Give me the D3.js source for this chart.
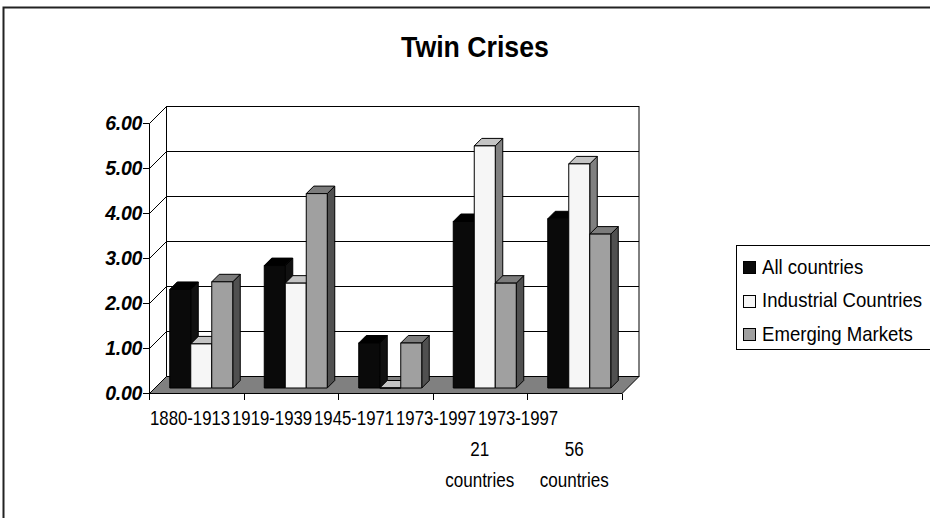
<!DOCTYPE html>
<html>
<head>
<meta charset="utf-8">
<script src="https://cdn.jsdelivr.net/npm/d3@7"></script>
<style>
  html, body { margin: 0; padding: 0; background: #fff; }
  svg { display: block; font-family: "Liberation Sans", Arial, sans-serif; }
</style>
</head>
<body>
<svg id="chart" width="930" height="518"></svg>
<script>
// Twin crises frequency by period
const categories = ["1880-1913", "1919-1939", "1945-1971", "1973-1997", "1973-1997"];
const categorySubLines = [[], [], [], ["21", "countries"], ["56", "countries"]];
const seriesNames = ["All countries", "Industrial Countries", "Emerging Markets"];
const allCountries = [2.19, 2.72, 1.00, 3.70, 3.76];
const industrialCountries = [0.98, 2.33, 0.00, 5.38, 4.98];
const emergingMarkets = [2.36, 4.32, 1.00, 2.33, 3.42];
const yTicks = [0, 1, 2, 3, 4, 5, 6];

const seriesValues = [allCountries, industrialCountries, emergingMarkets];
// front, top and side face colours of each series
const faceColors = [
  { front: "#0a0a0a", top: "#000000", side: "#111111" },
  { front: "#f6f6f6", top: "#c4c4c4", side: "#808080" },
  { front: "#a0a0a0", top: "#7c7c7c", side: "#505050" }
];

const svg = d3.select("#chart");

// condensed text helper: places text at (x, y) squeezed horizontally
function squeezed(sel, px, py, sx) {
  return sel.attr("x", 0).attr("y", 0)
    .attr("transform", `translate(${px},${py}) scale(${sx},1)`);
}

// outer chart frame
svg.append("rect")
  .attr("x", 3.5).attr("y", 7.5).attr("width", 960).attr("height", 560)
  .attr("fill", "none").attr("stroke", "#222").attr("stroke-width", 2);

// title
squeezed(svg.append("text"), 475, 57, 0.89)
  .attr("text-anchor", "middle")
  .attr("font-size", 30).attr("font-weight", "bold")
  .text("Twin Crises");

// plot geometry
const depth = 17;             // oblique depth of the floor / walls
const barFront = 5, barBack = 12.5; // bar depth slot within the floor
const x = d3.scaleBand().domain(d3.range(categories.length)).range([149, 621.5]);
const xs = d3.scaleBand().domain(d3.range(seriesNames.length))
  .range([0, x.bandwidth()]).paddingOuter(0.75).paddingInner(0);
const y = d3.scaleLinear().domain([0, 6]).range([393, 123]);

const x0 = x.range()[0], x1 = x.range()[1];
const yBase = y(0), yTop = y(6);

const walls = svg.append("g");

// back wall
walls.append("rect")
  .attr("x", x0 + depth + 0.5).attr("y", yTop - depth + 0.5)
  .attr("width", x1 - x0).attr("height", yBase - yTop)
  .attr("fill", "#fff").attr("stroke", "#000").attr("stroke-width", 1);

// gridlines on back wall and left wall
yTicks.forEach(t => {
  const yy = Math.round(y(t)) + 0.5;
  walls.append("line")
    .attr("x1", x0 + depth + 0.5).attr("x2", x1 + depth + 0.5)
    .attr("y1", yy - depth).attr("y2", yy - depth)
    .attr("stroke", "#000").attr("stroke-width", 1);
  walls.append("line")
    .attr("x1", x0 + 0.5).attr("y1", yy)
    .attr("x2", x0 + depth + 0.5).attr("y2", yy - depth)
    .attr("stroke", "#000").attr("stroke-width", 1);
});

// floor
walls.append("path")
  .attr("d", d3.line()([
    [x0 + 0.5, yBase + 0.5], [x1 + 0.5, yBase + 0.5],
    [x1 + depth + 0.5, yBase - depth + 0.5], [x0 + depth + 0.5, yBase - depth + 0.5]
  ]) + "Z")
  .attr("fill", "#808080").attr("stroke", "#000").attr("stroke-width", 1);

// value axis line and ticks
walls.append("line")
  .attr("x1", x0 + 0.5).attr("x2", x0 + 0.5)
  .attr("y1", yBase + 0.5).attr("y2", yTop + 0.5)
  .attr("stroke", "#000");
yTicks.forEach(t => {
  const yy = Math.round(y(t)) + 0.5;
  walls.append("line")
    .attr("x1", x0 - 6).attr("x2", x0 + 0.5)
    .attr("y1", yy).attr("y2", yy)
    .attr("stroke", "#000");
  walls.append("text")
    .attr("x", x0 - 7).attr("y", y(t) + 7)
    .attr("text-anchor", "end")
    .attr("font-size", 19.5).attr("font-weight", "bold").attr("font-style", "italic")
    .attr("letter-spacing", -0.3)
    .text(d3.format(".2f")(t));
});

// category axis ticks
d3.range(categories.length + 1).forEach(i => {
  const xx = Math.round(x0 + i * x.step()) + 0.5;
  walls.append("line")
    .attr("x1", xx).attr("x2", xx)
    .attr("y1", yBase + 0.5).attr("y2", yBase + 7)
    .attr("stroke", "#000");
});

// 3D columns
const bars = svg.append("g");
categories.forEach((c, ci) => {
  seriesValues.forEach((vals, si) => {
    const v = vals[ci];
    const bx = x(ci) + xs(si);
    const bw = xs.bandwidth();
    const yt = y(v), yb = y(0);
    const col = faceColors[si];
    const pt = (px, py, d) => [px + d, py - d];
    const poly = pts => d3.line()(pts) + "Z";
    // side face
    bars.append("path")
      .attr("d", poly([pt(bx + bw, yt, barFront), pt(bx + bw, yt, barBack),
                       pt(bx + bw, yb, barBack), pt(bx + bw, yb, barFront)]))
      .attr("fill", col.side).attr("stroke", "#000").attr("stroke-width", 1)
      .attr("stroke-linejoin", "round");
    // top face
    bars.append("path")
      .attr("d", poly([pt(bx, yt, barFront), pt(bx + bw, yt, barFront),
                       pt(bx + bw, yt, barBack), pt(bx, yt, barBack)]))
      .attr("fill", col.top).attr("stroke", "#000").attr("stroke-width", 1)
      .attr("stroke-linejoin", "round");
    // front face
    bars.append("path")
      .attr("d", poly([pt(bx, yt, barFront), pt(bx + bw, yt, barFront),
                       pt(bx + bw, yb, barFront), pt(bx, yb, barFront)]))
      .attr("fill", col.front).attr("stroke", "#000").attr("stroke-width", 1)
      .attr("stroke-linejoin", "round");
  });
});

// category labels: first lines run together, extra lines centred under each group
const labelRun = d3.scaleBand().domain(d3.range(categories.length)).range([150, 560]);
const labels = svg.append("g").attr("font-size", 19.5);
categories.forEach((c, ci) => {
  squeezed(labels.append("text"), labelRun(ci), 425, 0.86)
    .attr("text-anchor", "start")
    .text(c);
  categorySubLines[ci].forEach((line, li) => {
    squeezed(labels.append("text"), x(ci) + x.bandwidth() / 2, 456 + li * 31, 0.875)
      .attr("text-anchor", "middle")
      .text(line);
  });
});

// legend
const legend = svg.append("g");
legend.append("rect")
  .attr("x", 736.5).attr("y", 245.5).attr("width", 210).attr("height", 104)
  .attr("fill", "#fff").attr("stroke", "#000").attr("stroke-width", 1);
seriesNames.forEach((name, si) => {
  const base = 273.5 + si * 33.5;
  legend.append("rect")
    .attr("x", 743.5).attr("y", Math.round(base - 12.5) + 0.5)
    .attr("width", 12).attr("height", 12)
    .attr("fill", faceColors[si].front).attr("stroke", "#000");
  squeezed(legend.append("text"), 762, base, 0.93)
    .attr("font-size", 20)
    .text(name);
});
</script>
</body>
</html>
